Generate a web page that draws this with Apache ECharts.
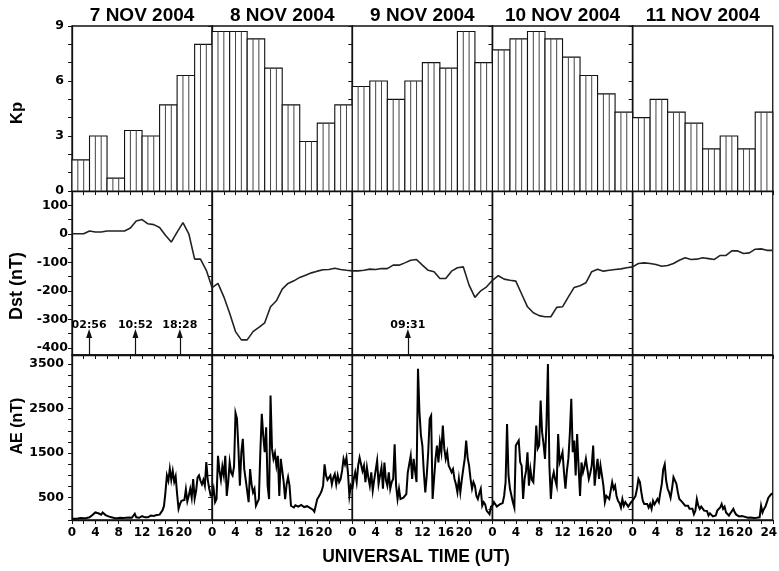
<!DOCTYPE html>
<html>
<head>
<meta charset="utf-8">
<script src="https://cdn.jsdelivr.net/npm/echarts@6/dist/echarts.min.js"></script>
<style>
  html, body { margin: 0; padding: 0; background: #fff; }
  #chart { width: 779px; height: 571px; }
</style>
</head>
<body>
<div id="chart"></div>
<script>
// ---- data ----
const days = ['7 NOV 2004', '8 NOV 2004', '9 NOV 2004', '10 NOV 2004', '11 NOV 2004'];

// x-axis ticks (hours UT) and labels
const hourTicks = [0, 2, 4, 6, 8, 10, 12, 14, 16, 18, 20, 22, 24];
const hourLabels = [0, 4, 8, 12, 16, 20];

// y-axis tick labels
const kpLabels = [0, 3, 6, 9];
const dstLabels = [-400, -300, -200, -100, 0, 100];
const aeLabels = [500, 1500, 2500, 3500];

// Kp, 3-hourly, 7-11 Nov 2004 (8 values per day)
const kp = [
  1.7, 3.0, 0.7, 3.3, 3.0, 4.7, 6.3, 8.0,
  8.7, 8.7, 8.3, 6.7, 4.7, 2.7, 3.7, 4.7,
  5.7, 6.0, 5.0, 6.0, 7.0, 6.7, 8.7, 7.0,
  7.7, 8.3, 8.7, 8.3, 7.3, 6.3, 5.3, 4.3,
  4.0, 5.0, 4.3, 3.7, 2.3, 3.0, 2.3, 4.3
];

// Dst (nT), hourly from 7 Nov 00 UT through 12 Nov 00 UT
const dst = [
  0, 0, 0, 10, 6, 6, 10, 10, 10, 10, 20, 45, 50, 35, 32, 22, -5, -29, 6, 39, 0, -89, -89, -128,
  -189, -174, -221, -279, -343, -372, -372, -343, -328, -312, -256, -235, -194, -174, -165, -153, -145, -137, -131, -126, -125, -121, -125, -128,
  -130, -130, -128, -124, -125, -122, -122, -110, -110, -102, -93, -90, -110, -128, -133, -157, -157, -131, -119, -116, -180, -223, -200, -186,
  -163, -147, -159, -163, -166, -211, -256, -277, -287, -291, -291, -258, -256, -221, -188, -182, -172, -133, -124, -131, -128, -125, -123, -119,
  -116, -104, -102, -104, -108, -114, -111, -104, -93, -84, -90, -89, -84, -87, -90, -76, -76, -60, -60, -69, -67, -54, -53, -58,
  -58
];

// AE (nT), 15-minute values per day
const ae7 = [
  30, 35, 28, 40, 35, 30, 45, 38, 40, 50, 45, 55, 60, 80, 110, 140,
  170, 200, 150, 190, 120, 170, 140, 110, 95, 80, 70, 60, 50, 45, 55, 40,
  45, 50, 40, 45, 40, 50, 45, 55, 60, 50, 75, 140, 60, 90, 50, 70,
  85, 120, 60, 90, 60, 80, 100, 70, 90, 60, 110, 80, 120, 150, 220, 310,
  620, 1000, 880, 1150, 900, 1100, 860, 980, 580, 250, 360, 430, 400, 450, 690, 420,
  550, 700, 500, 920, 480, 650, 950, 1000, 880, 800, 900, 770, 1300, 900, 700, 550
];
const ae8 = [
  550, 700, 400, 470, 1440, 1100, 900, 1200, 1000, 1440, 540, 850, 1300, 1060, 1000, 1200,
  2400, 2270, 1600, 770, 1520, 1820, 1140, 900, 920, 400, 1140, 800, 620, 700, 320, 350,
  470, 1520, 2380, 1890, 1520, 2080, 770, 470, 2790, 1600, 1370, 1500, 1220, 1440, 540, 1370,
  1370, 850, 470, 800, 960, 770, 320, 300, 280, 330, 360, 300, 280, 340, 320, 290,
  280, 310, 300, 270, 260, 230, 185, 150, 470, 520, 580, 650, 770, 1250, 1000, 900,
  880, 1000, 800, 950, 1030, 800, 1000, 850, 920, 1100, 1370, 1250, 1400, 1070, 540, 770
];
const ae9 = [
  700, 920, 1070, 850, 1220, 1400, 1370, 1100, 1220, 850, 1180, 950, 770, 1070, 660, 900,
  920, 1330, 810, 1000, 1180, 700, 1290, 900, 770, 1070, 700, 850, 920, 1700, 770, 470,
  700, 470, 430, 500, 540, 580, 1070, 1250, 1440, 920, 1370, 1100, 850, 3390, 2420, 1900,
  1670, 1070, 620, 1000, 1520, 2270, 2340, 470, 920, 1370, 1670, 1290, 1740, 1520, 2120, 1600,
  1370, 1520, 1220, 1150, 1070, 1140, 920, 800, 620, 920, 620, 900, 1140, 1370, 1780, 1400,
  1220, 920, 700, 850, 770, 540, 470, 600, 700, 320, 400, 350, 210, 250, 130, 300
];
const ae10 = [
  320, 400, 360, 300, 280, 350, 320, 380, 540, 850, 2150, 1000, 700, 550, 400, 280,
  1670, 1630, 1780, 1300, 1220, 470, 920, 1100, 1520, 770, 1140, 900, 850, 1370, 2120, 1600,
  1670, 2680, 1970, 1700, 1370, 2150, 3500, 1220, 470, 920, 1070, 900, 770, 1930, 1290, 1400,
  1520, 1070, 700, 1100, 1370, 1930, 2720, 1520, 1780, 1000, 1930, 1200, 540, 1290, 1070, 1200,
  1370, 1140, 920, 1050, 1220, 1670, 770, 1100, 1370, 920, 1220, 1000, 770, 400, 540, 500,
  470, 660, 850, 700, 770, 540, 430, 380, 280, 470, 320, 400, 360, 300, 280, 400
];
const ae11 = [
  430, 400, 540, 700, 920, 850, 620, 430, 360, 380, 360, 280, 360, 250, 430, 350,
  320, 470, 400, 620, 810, 1140, 1250, 880, 700, 620, 500, 700, 960, 1000, 810, 620,
  470, 430, 400, 360, 320, 280, 320, 250, 210, 250, 130, 210, 470, 320, 250, 300,
  280, 210, 170, 200, 100, 150, 130, 80, 60, 100, 210, 180, 280, 360, 250, 300,
  170, 210, 100, 150, 130, 250, 170, 120, 100, 80, 60, 90, 100, 70, 60, 50,
  40, 55, 60, 45, 40, 50, 35, 60, 320, 170, 250, 300, 400, 500, 470, 580,
  600
];
const aeDays = [ae7, ae8, ae9, ae10, ae11];

// storm onset markers (day index, time UT)
const onsetDay = [0, 0, 0, 2];
const onsetTime = ['02:56', '10:52', '18:28', '09:31'];

// ---- layout & drawing ----
const INK = '#111';
const LEFT = 72, COLW = 140.15;
const tickFont = { fontFamily: 'DejaVu Sans', fontWeight: 'bold', fontSize: 12.5, color: '#000' };
const hourFont = { fontFamily: 'DejaVu Sans', fontWeight: 'bold', fontSize: 12, color: '#000' };

const rows = [
  { top: 26, height: 165, min: 0, max: 9, labels: kpLabels, ticks: [0,1,2,3,4,5,6,7,8,9], margin: 8 },
  { top: 191, height: 164, min: -425, max: 150, labels: dstLabels,
    ticks: [-400,-350,-300,-250,-200,-150,-100,-50,0,50,100], margin: 4 },
  { top: 355, height: 165, min: 0, max: 3700, labels: aeLabels,
    ticks: [0,250,500,750,1000,1250,1500,1750,2000,2250,2500,2750,3000,3250,3500], margin: 8 }
];

function hm(t) { const p = t.split(':'); return +p[0] + (+p[1]) / 60; }

const grid = [], xAxis = [], yAxis = [], series = [];

rows.forEach((row, r) => {
  days.forEach((day, c) => {
    const gi = r * days.length + c;
    grid.push({
      left: LEFT + COLW * c, top: row.top, width: COLW, height: row.height,
      show: true, borderColor: INK, borderWidth: 1.3, backgroundColor: 'transparent',
      outerBoundsMode: 'none'
    });
    xAxis.push({
      type: 'value', gridIndex: gi, min: 0, max: 24,
      axisLine: { show: true, onZero: false, lineStyle: { color: INK, width: 1.3 } },
      axisTick: { show: true, inside: false, length: 4, customValues: hourTicks, lineStyle: { color: INK, width: 1 } },
      splitLine: { show: false },
      axisLabel: {
        show: r === 2, margin: 7, hideOverlap: false, showMinLabel: true, showMaxLabel: true,
        customValues: c === days.length - 1 ? hourLabels.concat([24]) : hourLabels,
        formatter: v => v === 20 ? '{l|20}' : (v === 24 ? '{e|24}' : '{n|' + v + '}'),
        rich: {
          n: Object.assign({}, hourFont),
          l: Object.assign({ padding: [0, 10, 0, 0] }, hourFont),
          e: Object.assign({ padding: [0, 8, 0, 0] }, hourFont)
        }
      }
    });
    yAxis.push({
      type: 'value', gridIndex: gi, min: row.min, max: row.max,
      axisLine: { show: true, onZero: false, lineStyle: { color: INK, width: 1.3 } },
      axisTick: { show: true, inside: false, length: 4, customValues: row.ticks, lineStyle: { color: INK, width: 1 } },
      splitLine: { show: false },
      axisLabel: Object.assign({ show: c === 0, margin: row.margin, customValues: row.labels,
        hideOverlap: false, showMinLabel: true, showMaxLabel: true, formatter: v => String(v) }, tickFont)
    });

    if (r === 0) {
      // Kp: 3-hour blocks, hatched hourly
      series.push({
        type: 'custom', xAxisIndex: gi, yAxisIndex: gi, silent: true,
        data: kp.slice(c * 8, c * 8 + 8).map((v, i) => [i * 3, v]),
        renderItem: (params, api) => {
          const h = api.value(0), v = api.value(1);
          const tl = api.coord([h, v]), br = api.coord([h + 3, 0]);
          const children = [{ type: 'rect',
            shape: { x: tl[0], y: tl[1], width: br[0] - tl[0], height: br[1] - tl[1] },
            style: { fill: '#fff', stroke: INK, lineWidth: 1.1 } }];
          for (let k = 1; k < 3; k++) {
            const x = api.coord([h + k, 0])[0];
            children.push({ type: 'line', shape: { x1: x, y1: tl[1], x2: x, y2: br[1] },
              style: { stroke: '#444', lineWidth: 1 } });
          }
          return { type: 'group', children };
        }
      });
    } else if (r === 1) {
      const marks = [];
      onsetDay.forEach((d, k) => {
        if (d !== c) return;
        const t = hm(onsetTime[k]);
        marks.push([{ coord: [t, -425] }, { coord: [t, -350], label: { formatter: onsetTime[k] } }]);
      });
      series.push({
        type: 'line', xAxisIndex: gi, yAxisIndex: gi, silent: true,
        showSymbol: false, symbol: 'none',
        lineStyle: { color: '#222', width: 1.6 },
        data: dst.slice(c * 24, c * 24 + 25).map((v, i) => [i, v]),
        markLine: marks.length ? {
          silent: true, animation: false,
          symbol: ['none', 'triangle'], symbolSize: [6, 9],
          lineStyle: { color: INK, width: 1.2, type: 'solid' },
          label: Object.assign({ position: 'end', distance: 3 }, tickFont, { fontSize: 11 }),
          data: marks
        } : undefined
      });
    } else {
      const vals = aeDays[c];
      const pts = vals.map((v, i) => [i / 4, v]);
      if (c < days.length - 1) pts.push([24, aeDays[c + 1][0]]);
      series.push({
        type: 'line', xAxisIndex: gi, yAxisIndex: gi, silent: true,
        showSymbol: false, symbol: 'none',
        lineStyle: { color: '#000', width: 2, join: 'miter' },
        data: pts
      });
    }
  });
});

const graphic = [];
days.forEach((d, c) => {
  graphic.push({ type: 'text', x: LEFT + COLW * (c + 0.5), y: 16,
    style: { text: d, fontFamily: 'Liberation Sans', fontWeight: 'bold', fontSize: 19,
      fill: '#000', align: 'center', verticalAlign: 'middle' } });
});
[['Kp', 113, 16.5], ['Dst (nT)', 286, 18], ['AE (nT)', 426, 16]].forEach(([t, y, fs]) => {
  graphic.push({ type: 'text', x: 17.5, y: y, rotation: Math.PI / 2,
    style: { text: t, fontFamily: 'Liberation Sans', fontWeight: 'bold', fontSize: fs,
      fill: '#000', align: 'center', verticalAlign: 'middle' } });
});
graphic.push({ type: 'text', x: 416, y: 557,
  style: { text: 'UNIVERSAL TIME (UT)', fontFamily: 'Liberation Sans', fontWeight: 'bold', fontSize: 17.5,
    fill: '#000', align: 'center', verticalAlign: 'middle' } });

const chart = echarts.init(document.getElementById('chart'), null, { renderer: 'canvas' });
chart.setOption({
  backgroundColor: '#fff',
  animation: false,
  grid, xAxis, yAxis, series, graphic
});
</script>
</body>
</html>
